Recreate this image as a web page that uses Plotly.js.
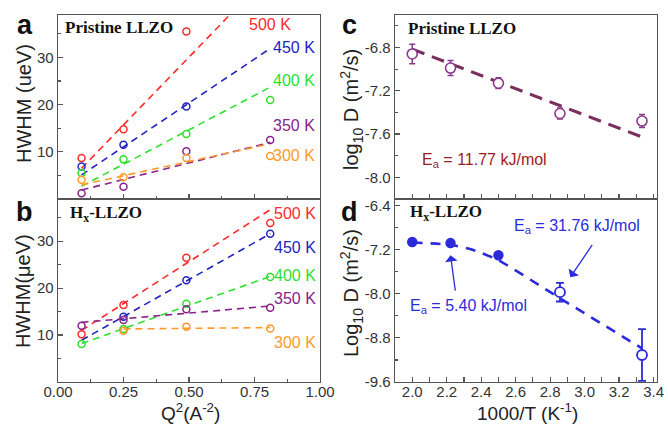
<!DOCTYPE html>
<html><head><meta charset="utf-8">
<script src="https://cdn.plot.ly/plotly-3.0.1.min.js"></script>
<style>html,body{margin:0;padding:0;background:#fff}#chart{width:668px;height:426px}</style>
</head><body><div id="chart"></div>
<script>
// ---------- data ----------
const Q2 = [0.09, 0.25, 0.49, 0.81];
const temps = ['500 K', '450 K', '400 K', '350 K', '300 K'];
// panel a : Pristine LLZO HWHM (ueV)
const a500 = [8.7, 14.8, 35.5, null];
const a450 = [6.9, 11.5, 19.6, null];
const a400 = [5.5, 8.4, 13.8, 21.0];
const a350 = [1.2, 2.6, 10.1, 12.5];
const a300 = [4.1, 4.6, 8.7, 9.1];
// panel a fits (value at Q2 = 0.09 and 0.81)
const fitQ = [0.09, 0.81];
const fa500 = [6.5, 47.9];
const fa450 = [5.1, 31.9];
const fa400 = [2.7, 23.7];
const fa350 = [1.9, 12.0];
const fa300 = [3.0, 11.7];
// panel b : Hx-LLZO HWHM (ueV)
const b500 = [10.2, 16.4, 26.5, 33.9];
const b450 = [null, 13.9, 21.7, 31.6];
const b400 = [8.1, 11.3, 16.7, 22.4];
const b350 = [12.0, 13.2, 15.5, 15.8];
const b300 = [null, 10.9, 11.8, 11.4];
const fb500 = [11.0, 36.7];
const fb450 = [8.9, 31.6];
const fb400 = [8.2, 22.5];
const fb350 = [12.7, 16.2];
const fitQ300b = [0.25, 0.81];
const fb300 = [11.3, 11.6];
// panel c : Pristine LLZO log10 D
const invT = [2.0, 2.222, 2.5, 2.857, 3.333];
const logDc = [-6.86, -6.99, -7.13, -7.41, -7.48];
const errC = [0.09, 0.07, 0.05, 0.05, 0.06];
const fitCx = [2.0, 3.333];
const fitCy = [-6.815, -7.627];
// panel d : Hx-LLZO log10 D
const logDd = [-7.06, -7.08, -7.30, -7.97, -9.11];
const errD = [0.02, 0.03, 0.03, 0.17, 0.47];
const fitDx = [2.0, 2.222, 2.35, 2.5, 2.857, 3.333];
const fitDy = [-7.07, -7.11, -7.20, -7.39, -8.08, -8.99];
// tick labels
const ticksAB = [10, 20, 30];
const ticksQ = [0, 0.25, 0.5, 0.75, 1.0];
const ticksQtext = ['0.00', '0.25', '0.50', '0.75', '1.00'];
const ticksC = [-8.0, -7.6, -7.2, -6.8];
const ticksCtext = ['-8.0', '-7.6', '-7.2', '-6.8'];
const ticksD = [-9.6, -8.8, -8.0, -7.2, -6.4];
const ticksDtext = ['-9.6', '-8.8', '-8.0', '-7.2', '-6.4'];
const ticksT = [2.0, 2.2, 2.4, 2.6, 2.8, 3.0, 3.2, 3.4];
const ticksTtext = ['2.0', '2.2', '2.4', '2.6', '2.8', '3.0', '3.2', '3.4'];

// ---------- styles ----------
const col = {'500 K':'#ff2a2a','450 K':'#2323c0','400 K':'#2ee02e','350 K':'#8a238a','300 K':'#ff9a2a'};
const W = 668, H = 426;
const px = v => v / W, py = v => 1 - v / H;
const FONT = 'Liberation Sans, Arial, sans-serif';
const SERIF = 'Liberation Serif, Times New Roman, serif';

const traces = [];
function panelSet(xa, ya, data, fits, fitxs) {
  temps.forEach((t, i) => {
    traces.push({x: fitxs[i], y: fits[i], xaxis: xa, yaxis: ya, mode: 'lines', showlegend: false,
      line: {color: col[t], width: 1.6, dash: '7px,5px'}, hoverinfo: 'skip'});
  });
  temps.forEach((t, i) => {
    traces.push({x: Q2, y: data[i], xaxis: xa, yaxis: ya, mode: 'markers', showlegend: false, name: t,
      marker: {symbol: 'circle-open', size: 7, color: col[t], line: {width: 1.5, color: col[t]}}});
  });
}
panelSet('x', 'y', [a500, a450, a400, a350, a300], [fa500, fa450, fa400, fa350, fa300], [fitQ, fitQ, fitQ, fitQ, fitQ]);
panelSet('x2', 'y2', [b500, b450, b400, b350, b300], [fb500, fb450, fb400, fb350, fb300], [fitQ, fitQ, fitQ, fitQ, fitQ300b]);

// panel c
traces.push({x: fitCx, y: fitCy, xaxis: 'x3', yaxis: 'y3', mode: 'lines', showlegend: false,
  line: {color: '#7a2e5c', width: 3, dash: '13px,8px'}});
traces.push({x: invT, y: logDc, xaxis: 'x3', yaxis: 'y3', mode: 'markers', showlegend: false,
  error_y: {type: 'data', array: errC, visible: true, color: '#8b3a8b', thickness: 1.5, width: 3},
  marker: {symbol: 'circle', size: 10, color: '#ffffff', line: {width: 1.6, color: '#8b3a8b'}}});

// panel d
const DB = '#2b2bdc';
traces.push({x: fitDx, y: fitDy, xaxis: 'x4', yaxis: 'y4', mode: 'lines', showlegend: false,
  line: {color: DB, width: 2.6, dash: '10px,8px', shape: 'spline', smoothing: 0.5}});
traces.push({x: invT.slice(0, 3), y: logDd.slice(0, 3), xaxis: 'x4', yaxis: 'y4', mode: 'markers', showlegend: false,
  error_y: {type: 'data', array: errD.slice(0, 3), visible: true, color: DB, thickness: 1.5, width: 3},
  marker: {symbol: 'circle', size: 9, color: DB, line: {width: 1.5, color: DB}}});
traces.push({x: invT.slice(3), y: logDd.slice(3), xaxis: 'x4', yaxis: 'y4', mode: 'markers', showlegend: false,
  error_y: {type: 'data', array: errD.slice(3), visible: true, color: DB, thickness: 1.8, width: 4},
  marker: {symbol: 'circle', size: 10, color: '#ffffff', line: {width: 1.8, color: DB}}});

const axBase = {showline: true, linecolor: '#555', linewidth: 1.3, mirror: true, ticks: 'inside', ticklen: 5,
  tickcolor: '#555', tickwidth: 1.2, showgrid: false, zeroline: false,
  tickfont: {family: FONT, size: 15, color: '#333'}};
const xAB = [px(58), px(320)], xCD = [px(395), px(657)];
const yAC = [py(199), py(15)], yBD = [py(382), py(199)];

const layout = {
  width: W, height: H, margin: {l: 0, r: 0, t: 0, b: 0}, paper_bgcolor: '#fff', plot_bgcolor: '#fff',
  showlegend: false,
  xaxis: Object.assign({}, axBase, {domain: xAB, anchor: 'y', range: [0, 1], tickvals: ticksQ, showticklabels: false,
    minor: {ticks: 'inside', ticklen: 3, dtick: 0.125, tick0: 0, tickcolor: '#555'}}),
  yaxis: Object.assign({}, axBase, {domain: yAC, anchor: 'x', range: [0, 39], tickvals: ticksAB,
    minor: {ticks: 'inside', ticklen: 3, tickvals: [5, 15, 25, 35], tickcolor: '#555'}}),
  xaxis2: Object.assign({}, axBase, {domain: xAB, anchor: 'y2', range: [0, 1], tickvals: ticksQ, ticktext: ticksQtext,
    ticklabelstandoff: -4,
    minor: {ticks: 'inside', ticklen: 3, dtick: 0.125, tick0: 0, tickcolor: '#555'}}),
  yaxis2: Object.assign({}, axBase, {domain: yBD, anchor: 'x2', range: [0, 39], tickvals: ticksAB,
    minor: {ticks: 'inside', ticklen: 3, tickvals: [5, 15, 25, 35], tickcolor: '#555'}}),
  xaxis3: Object.assign({}, axBase, {domain: xCD, anchor: 'y3', range: [1.9, 3.42], tickvals: ticksT, showticklabels: false,
    minor: {ticks: 'inside', ticklen: 5, dtick: 0.1, tick0: 0, tickcolor: '#555'}}),
  yaxis3: Object.assign({}, axBase, {domain: yAC, anchor: 'x3', range: [-8.2, -6.5], tickvals: ticksC, ticktext: ticksCtext,
    minor: {ticks: 'inside', ticklen: 3, tickvals: [-8.2, -7.8, -7.4, -7.0, -6.6], tickcolor: '#555'}}),
  xaxis4: Object.assign({}, axBase, {domain: xCD, anchor: 'y4', range: [1.9, 3.42], tickvals: ticksT, ticktext: ticksTtext,
    ticklabelstandoff: -4,
    minor: {ticks: 'inside', ticklen: 5, dtick: 0.1, tick0: 0, tickcolor: '#555'}}),
  yaxis4: Object.assign({}, axBase, {domain: yBD, anchor: 'x4', range: [-9.6, -6.28], tickvals: ticksD, ticktext: ticksDtext,
    minor: {ticks: 'inside', ticklen: 3, tickvals: [-9.2, -8.4, -7.6, -6.8], tickcolor: '#555'}}),
  annotations: []
};

const ann = layout.annotations;
function txt(x, y, text, opt) {
  ann.push(Object.assign({xref: 'paper', yref: 'paper', x: px(x), y: py(y), text: text, showarrow: false,
    xanchor: 'center', yanchor: 'middle', font: {family: FONT, size: 16, color: '#222'}}, opt || {}));
}
// panel letters
[['a', 25, 25], ['b', 25, 212], ['c', 349, 25], ['d', 349, 212]].forEach(l =>
  txt(l[1], l[2], '<b>' + l[0] + '</b>', {font: {family: FONT, size: 27, color: '#111'}}));
// sample titles
txt(63, 27, '<b>Pristine LLZO</b>', {xanchor: 'left', font: {family: SERIF, size: 17, color: '#111'}});
txt(68, 214, '<b>H<sub>x</sub>-LLZO</b>', {xanchor: 'left', font: {family: SERIF, size: 17, color: '#111'}});
txt(406, 28, '<b>Pristine LLZO</b>', {xanchor: 'left', font: {family: SERIF, size: 17, color: '#111'}});
txt(408, 213, '<b>H<sub>x</sub>-LLZO</b>', {xanchor: 'left', font: {family: SERIF, size: 17, color: '#111'}});
// temperature labels
const labYa = [25, 48, 80, 125, 156];
const labXa = [293, 317, 317, 317, 317];
const labYb = [213, 247, 275, 298, 342];
temps.forEach((t, i) => {
  txt(labXa[i], labYa[i], t, {xanchor: 'right', font: {family: FONT, size: 16, color: col[t]}});
  txt(318, labYb[i], t, {xanchor: 'right', font: {family: FONT, size: 16, color: col[t]}});
});
// axis titles
txt(24, 104, 'HWHM (ueV)', {textangle: -90, font: {family: FONT, size: 20, color: '#222'}});
txt(23, 291, 'HWHM(\u03bceV)', {textangle: -90, font: {family: FONT, size: 20, color: '#222'}});
txt(352, 110, 'log<sub>10</sub> D (m<sup>2</sup>/s)', {textangle: -90, font: {family: FONT, size: 20, color: '#222'}});
txt(351, 293, 'Log<sub>10</sub> D (m<sup>2</sup>/s)', {textangle: -90, font: {family: FONT, size: 20, color: '#222'}});
txt(190, 412, 'Q<sup>2</sup>(A<sup>-2</sup>)', {font: {family: FONT, size: 19, color: '#222'}});
txt(527, 412, '1000/T (K<sup>-1</sup>)', {font: {family: FONT, size: 19, color: '#222'}});
// activation energies
txt(420, 160, 'E<sub>a</sub> = 11.77 kJ/mol', {xanchor: 'left', font: {family: FONT, size: 16, color: '#9b1c1c'}});
txt(512, 226, 'E<sub>a</sub> = 31.76 kJ/mol', {xanchor: 'left', font: {family: FONT, size: 16, color: DB}});
txt(408, 306, 'E<sub>a</sub> = 5.40 kJ/mol', {xanchor: 'left', font: {family: FONT, size: 16, color: DB}});
// arrows
ann.push({xref: 'x4', yref: 'y4', axref: 'x4', ayref: 'y4', x: 2.917, y: -7.70, ax: 3.050, ay: -7.086, text: '',
  showarrow: true, arrowhead: 1, arrowsize: 1.6, arrowwidth: 1.3, arrowcolor: DB});
ann.push({xref: 'x4', yref: 'y4', axref: 'x4', ayref: 'y4', x: 2.222, y: -7.30, ax: 2.251, ay: -7.97, text: '',
  showarrow: true, arrowhead: 1, arrowsize: 1.6, arrowwidth: 1.3, arrowcolor: DB});

Plotly.newPlot('chart', traces, layout, {displayModeBar: false, staticPlot: true});
</script></body></html>
